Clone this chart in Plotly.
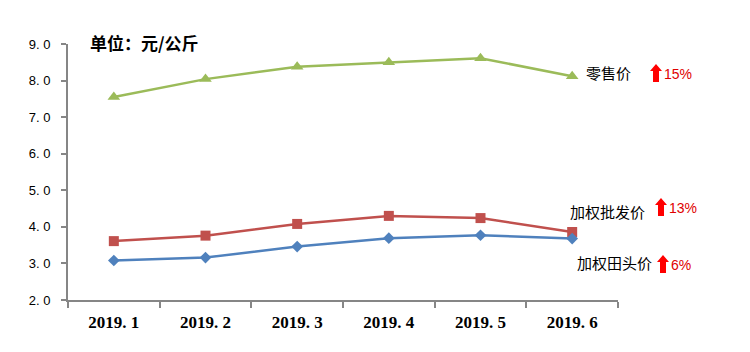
import plotly.graph_objects as go

months = ["2019.1", "2019.2", "2019.3", "2019.4", "2019.5", "2019.6"]
month_text = ["2019. 1", "2019. 2", "2019. 3", "2019. 4", "2019. 5", "2019. 6"]
retail = [7.55, 8.04, 8.38, 8.50, 8.61, 8.12]
wholesale = [3.61, 3.76, 4.08, 4.30, 4.24, 3.86]
farm = [3.08, 3.16, 3.46, 3.69, 3.77, 3.68]
y_ticks = [2, 3, 4, 5, 6, 7, 8, 9]
y_tick_text = ["2. 0", "3. 0", "4. 0", "5. 0", "6. 0", "7. 0", "8. 0", "9. 0"]

L, R, T, B = 68, 132, 44, 52
W, H = 750, 352
pw, ph = W - L - R, H - T - B

def px(x):
    return (x - L) / pw

def py(y):
    return (H - B - y) / ph

fig = go.Figure()
fig.add_trace(go.Scatter(x=months, y=retail, mode="lines+markers", name="零售价",
                         line=dict(color="#9BBB59", width=2.5),
                         marker=dict(symbol="triangle-up", size=11, color="#9BBB59")))
fig.add_trace(go.Scatter(x=months, y=wholesale, mode="lines+markers", name="加权批发价",
                         line=dict(color="#C0504D", width=2.5),
                         marker=dict(symbol="square", size=10, color="#C0504D")))
fig.add_trace(go.Scatter(x=months, y=farm, mode="lines+markers", name="加权田头价",
                         line=dict(color="#4F81BD", width=2.5),
                         marker=dict(symbol="diamond", size=9, color="#4F81BD")))

cjk = "Noto Sans CJK SC"

fig.update_layout(
    width=W, height=H, margin=dict(l=L, r=R, t=T, b=B),
    plot_bgcolor="white", paper_bgcolor="white", showlegend=False,
    xaxis=dict(type="category", showline=True, linecolor="#868686", linewidth=2,
               tickvals=months, ticktext=["<b>%s</b>" % t for t in month_text],
               ticks="outside", tickson="boundaries", ticklen=6, tickcolor="#868686",
               tickwidth=1.5, showgrid=False, range=[-0.5, 5.5], ticklabelstandoff=6,
               tickfont=dict(family="Liberation Serif", size=17, color="black")),
    yaxis=dict(range=[2, 9], tickvals=y_ticks, ticktext=y_tick_text, showline=True,
               linecolor="#868686", linewidth=2, ticks="outside", ticklen=5,
               tickcolor="#868686", tickwidth=1.5, showgrid=False, zeroline=False,
               ticklabelstandoff=8,
               tickfont=dict(family="Liberation Sans", size=13, color="black")),
)

ann = []
shapes = []
ann.append(dict(x=px(88), y=py(42), xref="paper", yref="paper", xanchor="left", yanchor="middle",
                text="<b>单位：元/公斤</b>", showarrow=False, font=dict(family=cjk, size=17, color="black")))
labels = [("零售价", 584, 72), ("加权批发价", 568, 211), ("加权田头价", 575, 262)]
for t, x, y in labels:
    ann.append(dict(x=px(x), y=py(y), xref="paper", yref="paper", xanchor="left", yanchor="middle",
                    text=t, showarrow=False, font=dict(family=cjk, size=15, color="black")))
pcts = [("15%", 656, 73), ("13%", 661, 207), ("6%", 663, 264)]
for t, x, y in pcts:
    top, mid, bot = y - 9, y - 2, y + 9
    pts = [(x, top), (x + 6, mid), (x + 3, mid), (x + 3, bot), (x - 3, bot), (x - 3, mid), (x - 6, mid)]
    path = "M " + " L ".join("%f,%f" % (px(a), py(b)) for a, b in pts) + " Z"
    shapes.append(dict(type="path", xref="paper", yref="paper", path=path,
                       fillcolor="#FF0000", line=dict(width=0)))
    ann.append(dict(x=px(x + 6), y=py(y + 1), xref="paper", yref="paper", xanchor="left", yanchor="middle",
                    text=t, showarrow=False, font=dict(family="Liberation Sans Narrow, Liberation Sans", size=14, color="#E00000")))
fig.update_layout(annotations=ann, shapes=shapes)

fig.write_html("out.html")
